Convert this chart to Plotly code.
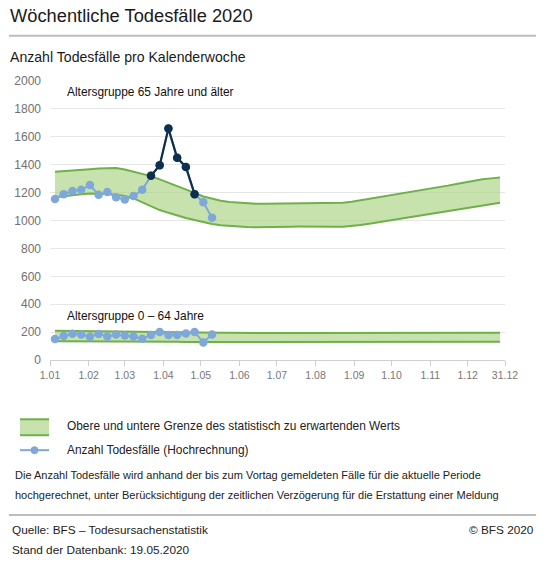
import pandas as pd
import plotly.graph_objects as go

# ---------------- data ----------------
tick_dates = ["2020-01-01", "2020-02-01", "2020-03-01", "2020-04-01", "2020-05-01",
              "2020-06-01", "2020-07-01", "2020-08-01", "2020-09-01", "2020-10-01",
              "2020-11-01", "2020-12-01", "2020-12-31"]
tick_labels = ["1.01", "1.02", "1.03", "1.04", "1.05", "1.06", "1.07", "1.08",
               "1.09", "1.10", "1.11", "1.12", "31.12"]

week_end_first = "2020-01-05"   # Sunday of calendar week 1

# 65+ : expected band (weeks 1..52)
upper_65 = [1349, 1355, 1360, 1365, 1368, 1372, 1377, 1377, 1365, 1350,
            1335, 1318, 1295, 1272, 1248, 1222, 1198, 1172, 1155, 1142,
            1133, 1127, 1122, 1120, 1120, 1121, 1123, 1125, 1127, 1127,
            1127, 1127, 1127, 1128, 1135, 1145, 1157, 1167, 1177, 1188,
            1198, 1208, 1216, 1225, 1237, 1250, 1262, 1274, 1285, 1295,
            1302, 1309]
lower_65 = [1166, 1175, 1182, 1188, 1194, 1194, 1190, 1185, 1175, 1158,
            1130, 1100, 1075, 1055, 1035, 1018, 1003, 988, 975, 966,
            960, 956, 953, 951, 951, 952, 954, 956, 957, 958,
            958, 957, 956, 956, 960, 967, 977, 987, 997, 1007,
            1017, 1027, 1035, 1043, 1053, 1063, 1073, 1085, 1096, 1106,
            1117, 1127]

# 0-64 : expected band (weeks 1..52)
upper_064 = [209, 208, 207, 206, 205, 204, 203, 202, 201, 200,
             199, 199, 198, 198, 197, 197, 196, 196, 195, 195,
             195, 194, 194, 194, 194, 194, 193, 193, 193, 193,
             193, 193, 193, 193, 193, 193, 194, 194, 194, 194,
             194, 195, 195, 195, 195, 195, 196, 196, 196, 196,
             196, 196]
lower_064 = [135, 135, 134, 134, 133, 133, 132, 132, 131, 131,
             131, 130, 130, 130, 130, 129, 129, 129, 129, 128,
             128, 128, 128, 128, 128, 128, 128, 128, 128, 128,
             128, 128, 128, 128, 128, 128, 128, 128, 129, 129,
             129, 129, 129, 129, 129, 130, 130, 130, 130, 130,
             130, 130]

# weekly deaths (projection), weeks 1..19
deaths_65 = [1154, 1189, 1211, 1220, 1254, 1184, 1204, 1166, 1151, 1175,
             1220, 1320, 1396, 1659, 1449, 1384, 1189, 1130, 1020]
deaths_064 = [151, 172, 188, 182, 167, 187, 168, 183, 176, 168,
              153, 180, 200, 179, 179, 190, 200, 126, 182]
excess_weeks = [12, 13, 14, 15, 16, 17]   # weeks above expected range (65+)

# ---------------- build ----------------
band_dates = pd.date_range(week_end_first, periods=len(upper_65), freq="7D")
obs_dates = pd.date_range(week_end_first, periods=len(deaths_65), freq="7D")

GREEN_LINE = "#6fb04a"
GREEN_FILL = "rgba(170,210,130,0.65)"
LIGHT_BLUE = "#7fa8da"
DARK_BLUE = "#0f2f4e"
FONT = "Liberation Sans, Arial, sans-serif"

fig = go.Figure()

for up, lo in [(upper_65, lower_65), (upper_064, lower_064)]:
    fig.add_trace(go.Scatter(x=band_dates, y=up, mode="lines",
                             line=dict(color=GREEN_LINE, width=2),
                             hoverinfo="skip", showlegend=False))
    fig.add_trace(go.Scatter(x=band_dates, y=lo, mode="lines",
                             line=dict(color=GREEN_LINE, width=2),
                             fill="tonexty", fillcolor=GREEN_FILL,
                             hoverinfo="skip", showlegend=False))

for series in (deaths_65, deaths_064):
    fig.add_trace(go.Scatter(x=obs_dates, y=series, mode="lines+markers",
                             line=dict(color=LIGHT_BLUE, width=2),
                             marker=dict(color=LIGHT_BLUE, size=8.5),
                             hoverinfo="skip", showlegend=False))

ex_idx = [w - 1 for w in excess_weeks]
fig.add_trace(go.Scatter(x=[obs_dates[i] for i in ex_idx],
                         y=[deaths_65[i] for i in ex_idx],
                         mode="lines+markers",
                         line=dict(color=DARK_BLUE, width=2.2),
                         marker=dict(color=DARK_BLUE, size=8.5),
                         hoverinfo="skip", showlegend=False))

# ---------------- layout ----------------
W, H = 555, 580
L, R, T, B = 50, 505, 80.5, 360.5


def px(x):
    return (x - L) / (R - L)


def py(y):
    return (B - y) / (B - T)


fig.update_layout(
    width=W, height=H,
    margin=dict(l=L, r=W - R, t=T, b=H - B, pad=0),
    paper_bgcolor="white", plot_bgcolor="white",
    font=dict(family=FONT, color="#222"),
    showlegend=False,
    xaxis=dict(
        type="date",
        range=["2020-01-01", "2020-12-31"],
        tickvals=tick_dates, ticktext=tick_labels,
        showgrid=False, showline=True, linecolor="#cfcfcf", linewidth=1,
        ticks="outside", ticklen=5, tickcolor="#cfcfcf",
        tickfont=dict(size=10.5, color="#777", family=FONT),
        zeroline=False, fixedrange=True,
    ),
    yaxis=dict(
        range=[0, 2000], tickvals=list(range(0, 2001, 200)),
        showgrid=True, gridcolor="#e6e6e6", gridwidth=1,
        zeroline=False, showline=False,
        tickfont=dict(size=12, color="#707070", family=FONT),
        ticks="", ticklabelstandoff=8, fixedrange=True,
    ),
)

ann = []


def text(x, y, s, size=12, color="#222", xanchor="left"):
    ann.append(dict(x=px(x), y=py(y), xref="paper", yref="paper", text=s,
                    showarrow=False, xanchor=xanchor, yanchor="middle",
                    font=dict(size=size, color=color, family=FONT)))


text(8, 15, "Wöchentliche Todesfälle 2020", size=18.3, color="#1a1a1a")
text(8, 56, "Anzahl Todesfälle pro Kalenderwoche", size=14.1, color="#1a1a1a")
text(65, 92, "Altersgruppe 65 Jahre und älter", size=11.9, color="#111")
text(65, 316, "Altersgruppe 0 – 64 Jahre", size=11.9, color="#111")
text(65, 427, "Obere und untere Grenze des statistisch zu erwartenden Werts", size=11.9, color="#222")
text(65, 451, "Anzahl Todesfälle (Hochrechnung)", size=11.9, color="#222")
text(13, 476, "Die Anzahl Todesfälle wird anhand der bis zum Vortag gemeldeten Fälle für die aktuelle Periode", size=11, color="#222")
text(13, 496, "hochgerechnet, unter Berücksichtigung der zeitlichen Verzögerung für die Erstattung einer Meldung", size=11, color="#222")
text(10, 531, "Quelle: BFS – Todesursachenstatistik", size=11.8, color="#222")
text(536, 531, "© BFS 2020", size=11.8, color="#222", xanchor="right")
text(10, 551, "Stand der Datenbank: 19.05.2020", size=11.8, color="#222")
fig.update_layout(annotations=ann)

shapes = []
# separator lines
shapes.append(dict(type="line", xref="paper", yref="paper", x0=px(9), x1=px(536),
                   y0=py(35), y1=py(35), line=dict(color="#bdbdbd", width=2)))
shapes.append(dict(type="line", xref="paper", yref="paper", x0=px(9), x1=px(536),
                   y0=py(516), y1=py(516), line=dict(color="#bdbdbd", width=2)))
# legend: band symbol
shapes.append(dict(type="rect", xref="paper", yref="paper", x0=px(20), x1=px(49),
                   y0=py(436), y1=py(420), fillcolor=GREEN_FILL, line=dict(width=0)))
for yy in (420, 436):
    shapes.append(dict(type="line", xref="paper", yref="paper", x0=px(20), x1=px(49),
                       y0=py(yy), y1=py(yy), line=dict(color=GREEN_LINE, width=2)))
# legend: line+marker symbol
shapes.append(dict(type="line", xref="paper", yref="paper", x0=px(20), x1=px(49),
                   y0=py(451), y1=py(451), line=dict(color=LIGHT_BLUE, width=2)))
shapes.append(dict(type="circle", xref="paper", yref="paper", x0=px(31), x1=px(38),
                   y0=py(454.5), y1=py(447.5), fillcolor=LIGHT_BLUE,
                   line=dict(color=LIGHT_BLUE, width=1)))
fig.update_layout(shapes=shapes)

# remove the default page margin so the figure sits at the window origin
page_js = ("document.body.style.margin='0';"
           "document.documentElement.style.overflow='hidden';")
fig.write_html("out.html", config={"displayModeBar": False}, post_script=page_js)
